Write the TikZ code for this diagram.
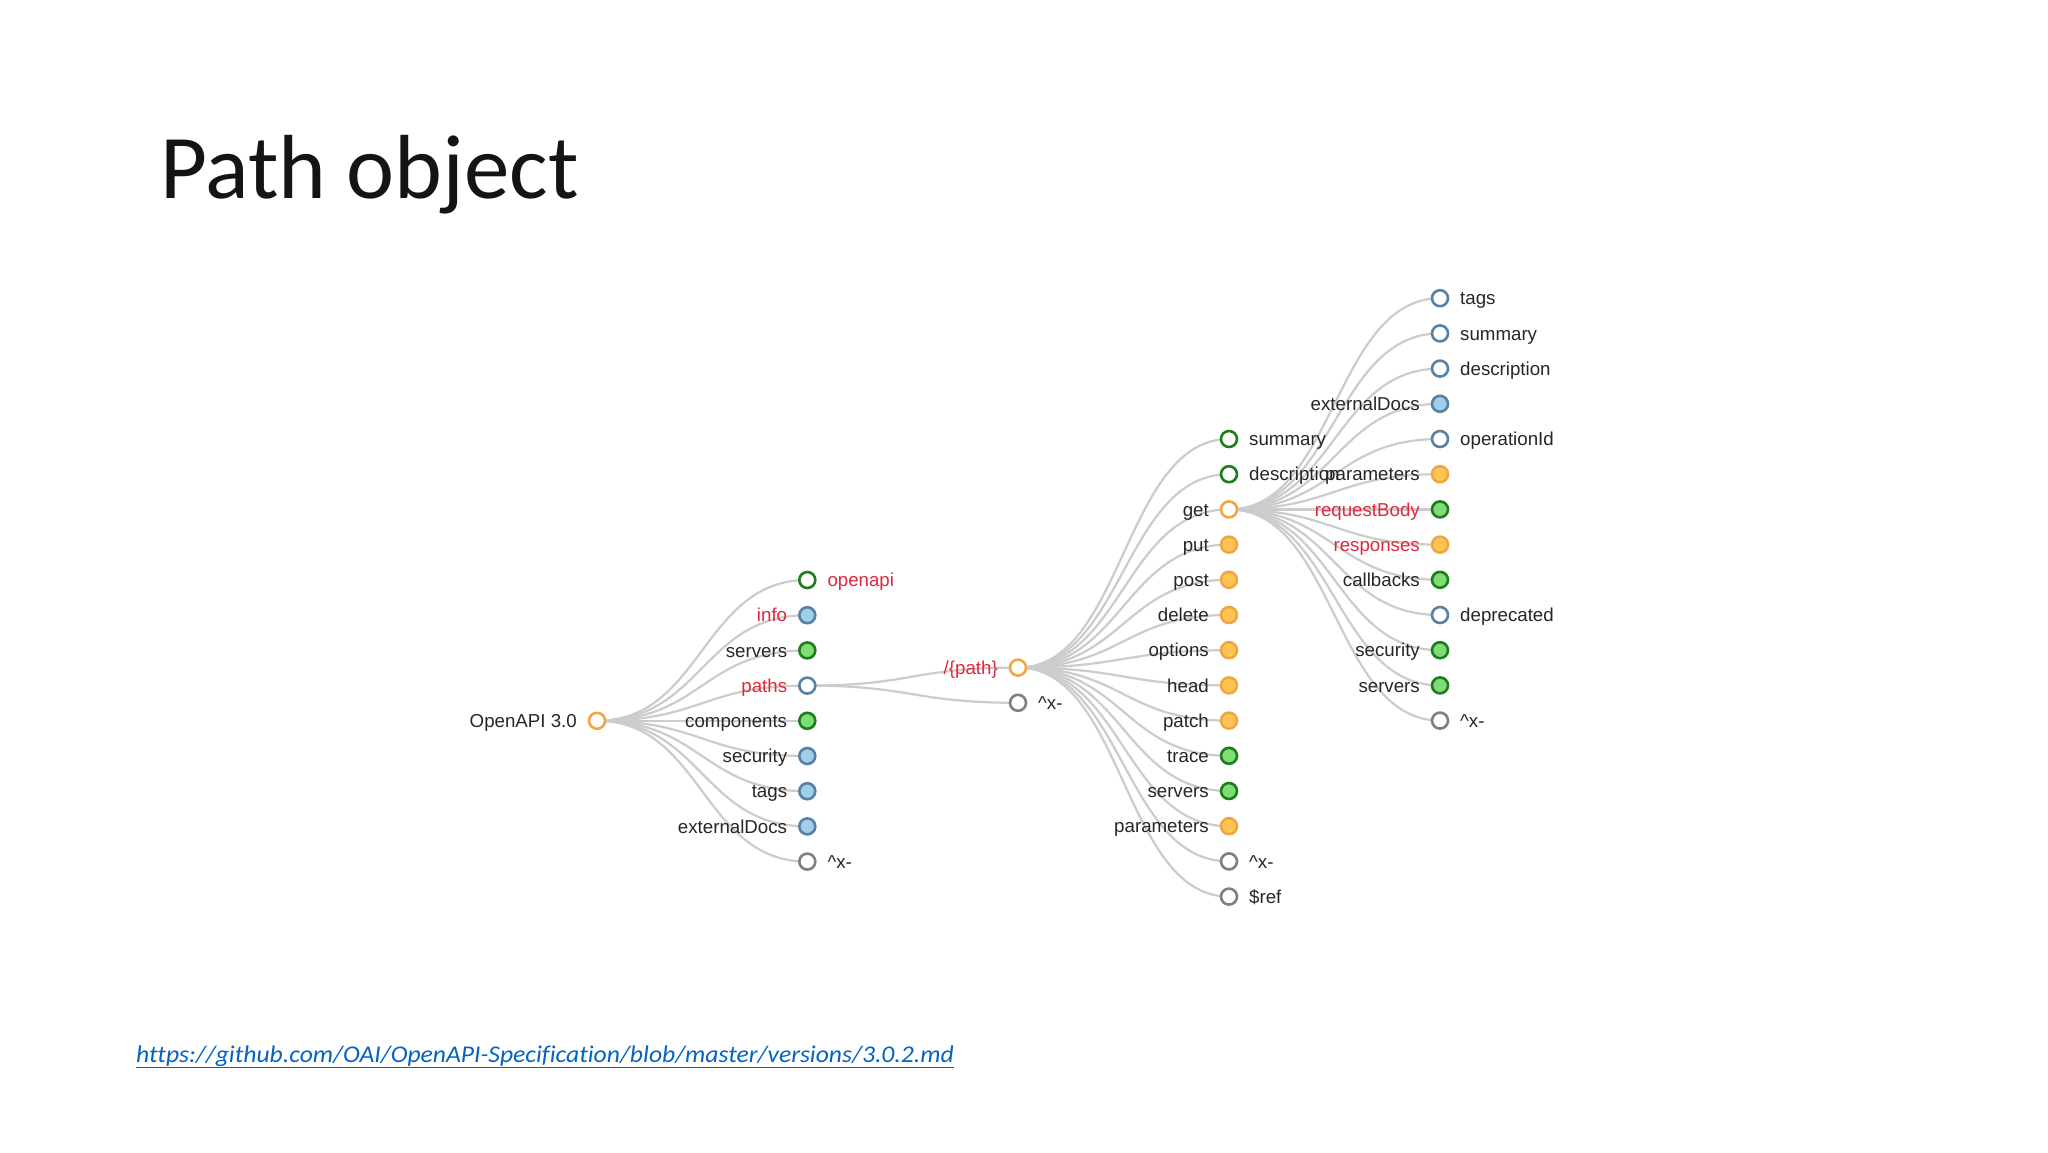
\documentclass[tikz,border=0pt]{standalone}
\usepackage{fontspec}
\setmainfont{Liberation Sans}
\newfontfamily\calibri[Ligatures=NoCommon]{Carlito}
\usetikzlibrary{calc}
\pgfdeclarelayer{bg}
\pgfsetlayers{bg,main}
\definecolor{edgegrey}{HTML}{CCCCCC}
\definecolor{gstroke}{HTML}{1E7E1E}
\definecolor{gfill}{HTML}{7FDD75}
\definecolor{bstroke}{HTML}{5782A6}
\definecolor{bfill}{HTML}{A2CDEB}
\definecolor{ostroke}{HTML}{F2A642}
\definecolor{ofill}{HTML}{FFC452}
\definecolor{nstroke}{HTML}{808080}
\definecolor{redtxt}{HTML}{E0283C}
\definecolor{txt}{HTML}{262626}
\definecolor{linkblue}{HTML}{0563C1}
\tikzset{
  dot/.style={circle, inner sep=0pt, minimum size=16pt, line width=2.6pt},
  gH/.style={dot, draw=gstroke, fill=white},
  gF/.style={dot, draw=gstroke, fill=gfill},
  bH/.style={dot, draw=bstroke, fill=white},
  bF/.style={dot, draw=bstroke, fill=bfill},
  oH/.style={dot, draw=ostroke, fill=white},
  oF/.style={dot, draw=ostroke, fill=ofill},
  nH/.style={dot, draw=nstroke, fill=white},
  lbl/.style={inner sep=0pt, font=\fontsize{18.7}{22}\selectfont},
  lblL/.style={lbl, anchor=base east, xshift=-20pt, yshift=-6.6pt},
  lblR/.style={lbl, anchor=base west, xshift=20pt, yshift=-6.6pt},
  edge/.style={draw=edgegrey, line width=2.2pt},
}
\newcommand\tn[7]{%
  \node[#4] (#1) at (#2,#3) {};
  \node[lbl#5, text=#6] (#1-t) at (#2,#3) {#7};}
\newcommand\lnk[2]{%
  \draw[edge] let \p1=(#1.center), \p2=(#2.center) in
    (\p1) .. controls ({(\x1+\x2)/2},\y1) and ({(\x1+\x2)/2},\y2) .. (\p2);}
\begin{document}
\begin{tikzpicture}[x=1pt, y=-1pt]
\useasboundingbox (0,0) rectangle (2048,1152);
% title and link
\node[anchor=base west, inner sep=0pt, text=black!92,
      font=\calibri\fontsize{91}{100}\selectfont] (title) at (160,198) {Path object};
\node[anchor=base west, inner sep=0pt, text=linkblue,
      font=\calibri\itshape\fontsize{24}{28}\selectfont] (url) at (136,1062)
  {\scalebox{1.067}[1]{\underline{https://github.com/OAI/OpenAPI-Specification/blob/master/versions/3.0.2.md}}};
% root
\tn{root}{597}{720.8}{oH}{L}{txt}{OpenAPI 3.0}
% level 1
\tn{a1}{807.3}{580}{gH}{R}{redtxt}{openapi}
\tn{a2}{807.3}{615.2}{bF}{L}{redtxt}{info}
\tn{a3}{807.3}{650.4}{gF}{L}{txt}{servers}
\tn{a4}{807.3}{685.6}{bH}{L}{redtxt}{paths}
\tn{a5}{807.3}{720.8}{gF}{L}{txt}{components}
\tn{a6}{807.3}{756}{bF}{L}{txt}{security}
\tn{a7}{807.3}{791.2}{bF}{L}{txt}{tags}
\tn{a8}{807.3}{826.4}{bF}{L}{txt}{externalDocs}
\tn{a9}{807.3}{861.6}{nH}{R}{txt}{\textasciicircum x-}
% level 2
\tn{p1}{1018}{667.6}{oH}{L}{redtxt}{/\{path\}}
\tn{p2}{1018}{702.8}{nH}{R}{txt}{\textasciicircum x-}
% level 3
\tn{c1}{1229}{439}{gH}{R}{txt}{summary}
\tn{c2}{1229}{474.2}{gH}{R}{txt}{description}
\tn{c3}{1229}{509.4}{oH}{L}{txt}{get}
\tn{c4}{1229}{544.6}{oF}{L}{txt}{put}
\tn{c5}{1229}{579.8}{oF}{L}{txt}{post}
\tn{c6}{1229}{615}{oF}{L}{txt}{delete}
\tn{c7}{1229}{650.2}{oF}{L}{txt}{options}
\tn{c8}{1229}{685.4}{oF}{L}{txt}{head}
\tn{c9}{1229}{720.6}{oF}{L}{txt}{patch}
\tn{c10}{1229}{755.8}{gF}{L}{txt}{trace}
\tn{c11}{1229}{791}{gF}{L}{txt}{servers}
\tn{c12}{1229}{826.2}{oF}{L}{txt}{parameters}
\tn{c13}{1229}{861.4}{nH}{R}{txt}{\textasciicircum x-}
\tn{c14}{1229}{896.6}{nH}{R}{txt}{\$ref}
% level 4
\tn{d1}{1440}{298.2}{bH}{R}{txt}{tags}
\tn{d2}{1440}{333.4}{bH}{R}{txt}{summary}
\tn{d3}{1440}{368.6}{bH}{R}{txt}{description}
\tn{d4}{1440}{403.8}{bF}{L}{txt}{externalDocs}
\tn{d5}{1440}{439}{bH}{R}{txt}{operationId}
\tn{d6}{1440}{474.2}{oF}{L}{txt}{parameters}
\tn{d7}{1440}{509.4}{gF}{L}{redtxt}{requestBody}
\tn{d8}{1440}{544.6}{oF}{L}{redtxt}{responses}
\tn{d9}{1440}{579.8}{gF}{L}{txt}{callbacks}
\tn{d10}{1440}{615}{bH}{R}{txt}{deprecated}
\tn{d11}{1440}{650.2}{gF}{L}{txt}{security}
\tn{d12}{1440}{685.4}{gF}{L}{txt}{servers}
\tn{d13}{1440}{720.6}{nH}{R}{txt}{\textasciicircum x-}
% edges
\begin{pgfonlayer}{bg}
\fill[white] (0,0) rectangle (2048,1152);
\foreach \i in {1,...,9} {\lnk{root}{a\i}}
\lnk{a4}{p1}
\lnk{a4}{p2}
\foreach \i in {1,...,14} {\lnk{p1}{c\i}}
\foreach \i in {1,...,13} {\lnk{c3}{d\i}}
\end{pgfonlayer}
\end{tikzpicture}
\end{document}
